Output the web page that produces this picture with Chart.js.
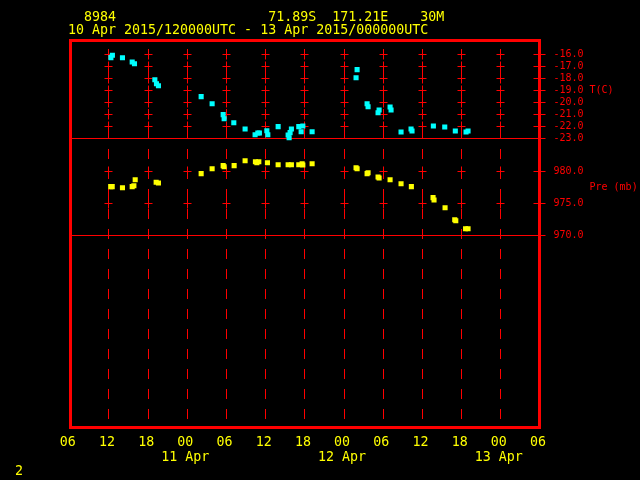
<!DOCTYPE html>
<html><head><meta charset="utf-8">
<script src="https://cdn.jsdelivr.net/npm/chart.js@4.4.1/dist/chart.umd.min.js"></script>
<style>html,body{margin:0;padding:0;background:#000;overflow:hidden}canvas{display:block}</style>
</head><body>
<canvas id="c" width="640" height="480"></canvas>
<script>
// ---- data (hours after 10 Apr 2015 12:00 UTC) ----
const tempHours = [0.37,0.6,2.14,3.63,3.98,7.1,7.35,7.65,14.19,15.87,17.56,17.71,19.19,20.92,22.45,22.87,23.11,24.25,24.4,25.98,27.51,27.66,27.81,28.01,29.14,29.5,29.76,31.18,37.91,38.07,39.6,39.75,41.28,41.44,43.12,43.27,44.8,46.33,46.48,49.75,51.49,53.11,54.75,55.06];
const tempValues = [-16.28,-16.08,-16.29,-16.64,-16.79,-18.12,-18.45,-18.62,-19.53,-20.12,-21.03,-21.37,-21.7,-22.23,-22.7,-22.56,-22.56,-22.37,-22.7,-22.03,-22.73,-22.95,-22.53,-22.23,-22.03,-22.45,-21.98,-22.45,-17.95,-17.28,-20.12,-20.37,-20.87,-20.64,-20.39,-20.64,-22.48,-22.23,-22.39,-21.98,-22.06,-22.39,-22.48,-22.39];
const presHours = [0.34,0.57,2.14,3.63,3.89,4.09,7.3,7.65,14.19,15.87,17.56,17.71,19.24,20.92,22.5,22.72,23.02,24.34,25.98,27.51,28.01,29.14,29.65,29.76,31.18,37.91,38.07,39.6,39.75,41.28,41.44,43.12,44.8,46.38,49.7,49.85,51.54,53.02,53.18,54.68,55.06];
const presValues = [977.6,977.6,977.44,977.6,977.75,978.69,978.28,978.17,979.63,980.41,980.88,980.72,980.88,981.66,981.5,981.34,981.5,981.34,981.03,981.03,981.03,981.03,981.19,980.98,981.19,980.56,980.41,979.63,979.78,979.11,978.95,978.69,978.06,977.6,975.88,975.52,974.31,972.44,972.28,971.03,971.03];
const hourTicks = [-6,0,6,12,18,24,30,36,42,48,54,60,66];
const hourTickLabels = ['06','12','18','00','06','12','18','00','06','12','18','00','06'];
const gridHours = [0,6,12,18,24,30,36,42,48,54,60];
const dateHours = [12,36,60];
const dateLabels = ['11 Apr','12 Apr','13 Apr'];
const tempTicks = [-16,-17,-18,-19,-20,-21,-22,-23];
const presTicks = [980,975,970];
const headerLine1 = '  8984                   71.89S  171.21E    30M';
const headerLine2 = '10 Apr 2015/120000UTC - 13 Apr 2015/000000UTC';
const tempTitle = 'T(C)';
const presTitle = 'Pre (mb)';
const pageNumber = '2';

const RED = '#ff0000', YEL = '#ffff00', CYAN = '#00ffff';

const overlay = {
  id: 'overlay',
  beforeDraw(chart) {
    const ctx = chart.ctx;
    ctx.save(); ctx.fillStyle = '#000'; ctx.fillRect(0, 0, chart.width, chart.height); ctx.restore();
  },
  beforeDatasetsDraw(chart) {
    const {ctx, chartArea: a, scales: {x, yT, yP}} = chart;
    const col = h => Math.round(x.getPixelForValue(h)) + 0.5;
    const row = (s, v) => Math.floor(s.getPixelForValue(v)) + 0.5;
    ctx.save();
    ctx.strokeStyle = RED; ctx.lineWidth = 1;
    const topY = row(yT, tempTicks[0]) - 5.5;
    // dashed verticals
    ctx.setLineDash([10, 10]);
    gridHours.forEach(h => {
      const px = col(h);
      ctx.beginPath(); ctx.moveTo(px, topY); ctx.lineTo(px, a.bottom); ctx.stroke();
    });
    ctx.setLineDash([]);
    // crosses
    const crossRows = tempTicks.slice(0, -1).map(v => row(yT, v)).concat(presTicks.slice(0, -1).map(v => row(yP, v)));
    gridHours.forEach(h => {
      const px = col(h);
      crossRows.forEach(py => {
        ctx.beginPath();
        ctx.moveTo(px - 4, py); ctx.lineTo(px + 4, py);
        ctx.moveTo(px, py - 5); ctx.lineTo(px, py + 5);
        ctx.stroke();
      });
    });
    // full horizontal separators
    const right = col(66);
    [row(yT, tempTicks[tempTicks.length - 1]), row(yP, presTicks[presTicks.length - 1])].forEach(py => {
      ctx.beginPath(); ctx.moveTo(a.left, py); ctx.lineTo(right + 5, py); ctx.stroke();
    });
    // right-axis ticks
    crossRows.forEach(py => {
      ctx.beginPath(); ctx.moveTo(right - 7, py); ctx.lineTo(right + 5, py); ctx.stroke();
    });
    // frame
    ctx.lineWidth = 3;
    const fl = col(-6) + 1, fr = col(66) - 1;
    ctx.strokeRect(fl, a.top - 0.5, fr - fl, a.bottom - a.top);
    // right-axis labels
    ctx.fillStyle = RED;
    ctx.font = '10px "DejaVu Sans Mono"';
    ctx.textBaseline = 'middle'; ctx.textAlign = 'left';
    tempTicks.forEach(v => ctx.fillText(v.toFixed(1), right + 13, yT.getPixelForValue(v)));
    presTicks.forEach(v => ctx.fillText(v.toFixed(1), right + 13, yP.getPixelForValue(v)));
    ctx.fillText(tempTitle, right + 49, yT.getPixelForValue(-19));
    ctx.fillText(presTitle, right + 49, (yP.getPixelForValue(980) + yP.getPixelForValue(975)) / 2);
    // yellow texts
    ctx.fillStyle = YEL;
    ctx.font = '13.3px "DejaVu Sans Mono"';
    ctx.textAlign = 'left';
    ctx.fillText(headerLine1, 68, 18);
    ctx.fillText(headerLine2, 68, 31);
    ctx.textAlign = 'center';
    hourTicks.forEach((h, i) => ctx.fillText(hourTickLabels[i], x.getPixelForValue(h) - 1.5, 443));
    dateHours.forEach((h, i) => ctx.fillText(dateLabels[i], x.getPixelForValue(h) - 1.5, 458));
    ctx.textAlign = 'left';
    ctx.fillText(pageNumber, 15, 472);
    ctx.restore();
  }
};

const toPts = (hs, vs) => hs.map((h, i) => ({x: h, y: vs[i]}));

new Chart(document.getElementById('c'), {
  type: 'scatter',
  data: {
    datasets: [
      {data: toPts(tempHours, tempValues), yAxisID: 'yT', pointStyle: 'rect', pointRadius: 3.6, pointBorderWidth: 0, backgroundColor: CYAN, borderColor: CYAN},
      {data: toPts(presHours, presValues), yAxisID: 'yP', pointStyle: 'rect', pointRadius: 3.6, pointBorderWidth: 0, backgroundColor: YEL, borderColor: YEL}
    ]
  },
  options: {
    responsive: false, animation: false, devicePixelRatio: 1,
    layout: {padding: {left: 69.3, right: 100.5, top: 41, bottom: 52}},
    plugins: {legend: {display: false}, tooltip: {enabled: false}},
    scales: {
      x: {type: 'linear', min: -6, max: 66, display: false},
      yT: {type: 'linear', min: -47.142, max: -14.892, display: false},
      yP: {type: 'linear', min: 939.89, max: 1000.36, display: false}
    }
  },
  plugins: [overlay]
});
</script>
</body></html>
